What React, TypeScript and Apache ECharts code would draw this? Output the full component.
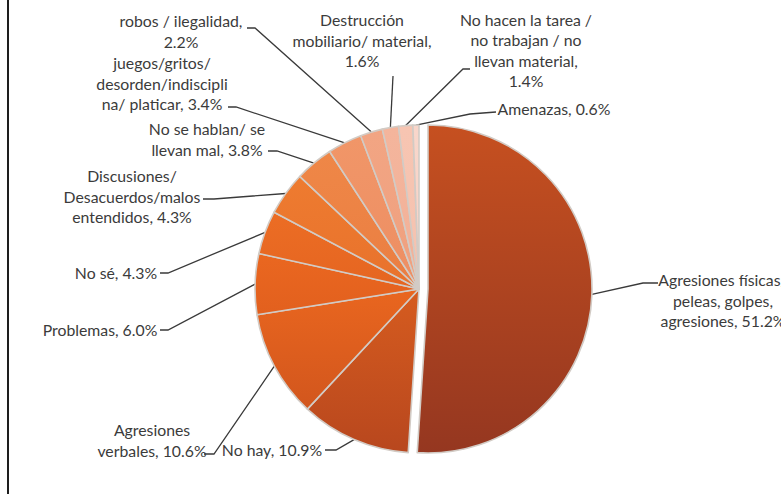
import React, { useEffect, useRef } from "react";
import * as echarts from "echarts";

// Category names, wrapped as in the picture
const categories = [
  "Agresiones físicas/\npeleas, golpes,\nagresiones",
  "No hay",
  "Agresiones\nverbales",
  "Problemas",
  "No sé",
  "Discusiones/\nDesacuerdos/malos\nentendidos",
  "No se hablan/ se\nllevan mal",
  "juegos/gritos/\ndesorden/indiscipli\nna/ platicar",
  "robos / ilegalidad",
  "Destrucción\nmobiliario/ material",
  "No hacen la tarea /\nno trabajan / no\nllevan material",
  "Amenazas",
];

// Percentages
const values = [51.2, 10.9, 10.6, 6.0, 4.3, 4.3, 3.8, 3.4, 2.2, 1.6, 1.4, 0.6];

// Which slice is pulled out of the pie
const explodedIndex = 0;

// Styles
const topColors = ["#c65020", "#d65c1f", "#e9661f", "#ea6720", "#ec6d24", "#ee7b30", "#ef8747", "#f19668", "#f2a583", "#f4b59c", "#f7c5b2", "#f9d6ca"];
const bottomColors = ["#953720", "#b8471e", "#d2561d", "#e2601e", "#e56521", "#e8722c", "#ea7e42", "#ed8e63", "#efa07f", "#f2b199", "#f5c2af", "#f8d3c7"];

// Label placement (layout only)
const labelPlacement: { x: number; y: number; brk: boolean; bend: number[][] }[] = [
  { x: 723, y: 300, brk: false, bend: [[643, 283], [658, 283]] },
  { x: 272, y: 449, brk: false, bend: [[336, 450], [325, 450]] },
  { x: 152, y: 440, brk: false, bend: [[214, 454], [204, 454]] },
  { x: 100, y: 329, brk: false, bend: [[168, 330], [160, 330]] },
  { x: 116, y: 272, brk: false, bend: [[168, 273], [160, 273]] },
  { x: 132, y: 196, brk: false, bend: [[214, 199], [203, 199]] },
  { x: 207, y: 139, brk: false, bend: [[277, 151], [268, 151]] },
  { x: 162, y: 83, brk: false, bend: [[236, 107], [228, 107]] },
  { x: 181, y: 31, brk: true, bend: [[255, 28], [247, 28]] },
  { x: 362, y: 40, brk: true, bend: [[393, 76], [393, 76]] },
  { x: 526, y: 50, brk: true, bend: [[463, 69], [470, 69]] },
  { x: 554, y: 108, brk: false, bend: [[470, 114], [496, 112]] },
];

const textStyle = {
  fontFamily: "Lato",
  fontSize: 15.8,
  lineHeight: 20.5,
  color: "#3b3b3b",
};

export default function App() {
  const ref = useRef<HTMLDivElement>(null);
  useEffect(() => {
    if (!ref.current) return;
    const chart = echarts.init(ref.current, undefined, { renderer: "svg" });

    const makeData = (visible: (i: number) => boolean) =>
      categories.map((name, i) => {
        if (!visible(i)) {
          return {
            name,
            value: values[i],
            itemStyle: { color: "rgba(0,0,0,0)", borderWidth: 0 },
            label: { show: false },
            labelLine: { show: false },
          };
        }
        return {
          name,
          value: values[i],
          itemStyle: {
            color: new echarts.graphic.LinearGradient(0, 0, 0, 1, [
              { offset: 0, color: topColors[i] },
              { offset: 1, color: bottomColors[i] },
            ]),
            borderColor: "#d2cbc5",
            borderWidth: 1.6,
          },
        };
      });

    const common = {
      type: "pie",
      radius: 164,
      startAngle: 90,
      clockwise: true,
      avoidLabelOverlap: false,
      silent: true,
      emphasis: { disabled: true },
      label: {
        show: true,
        position: "outside",
        ...textStyle,
        align: "center",
        formatter: (p: any) =>
          `${p.name}${labelPlacement[p.dataIndex].brk ? ",\n" : ", "}${Number(p.value).toFixed(1)}%`,
      },
      labelLine: {
        show: true,
        length: 10,
        length2: 10,
        lineStyle: { color: "#3a3a3a", width: 1.3 },
      },
      labelLayout: (params: any) => {
        const L = labelPlacement[params.dataIndex];
        const p0 = params.labelLinePoints ? params.labelLinePoints[0] : L.bend[0];
        return {
          x: L.x,
          y: L.y,
          align: "center",
          verticalAlign: "middle",
          labelLinePoints: [p0, L.bend[0], L.bend[1]],
        };
      },
    };

    chart.setOption({
      animation: false,
      graphic: [
        {
          type: "line",
          shape: { x1: 8, y1: 0, x2: 8, y2: 494 },
          style: { stroke: "#1e1e1e", lineWidth: 2 },
        },
      ],
      series: [
        {
          ...common,
          center: [419, 289],
          data: makeData((i) => i !== explodedIndex),
        },
        {
          ...common,
          center: [428, 289],
          data: makeData((i) => i === explodedIndex),
        },
      ],
    });
    return () => chart.dispose();
  }, []);
  return (
    <div
      ref={ref}
      style={{ position: "absolute", left: 0, top: 0, width: 781, height: 494, background: "#fff" }}
    />
  );
}
